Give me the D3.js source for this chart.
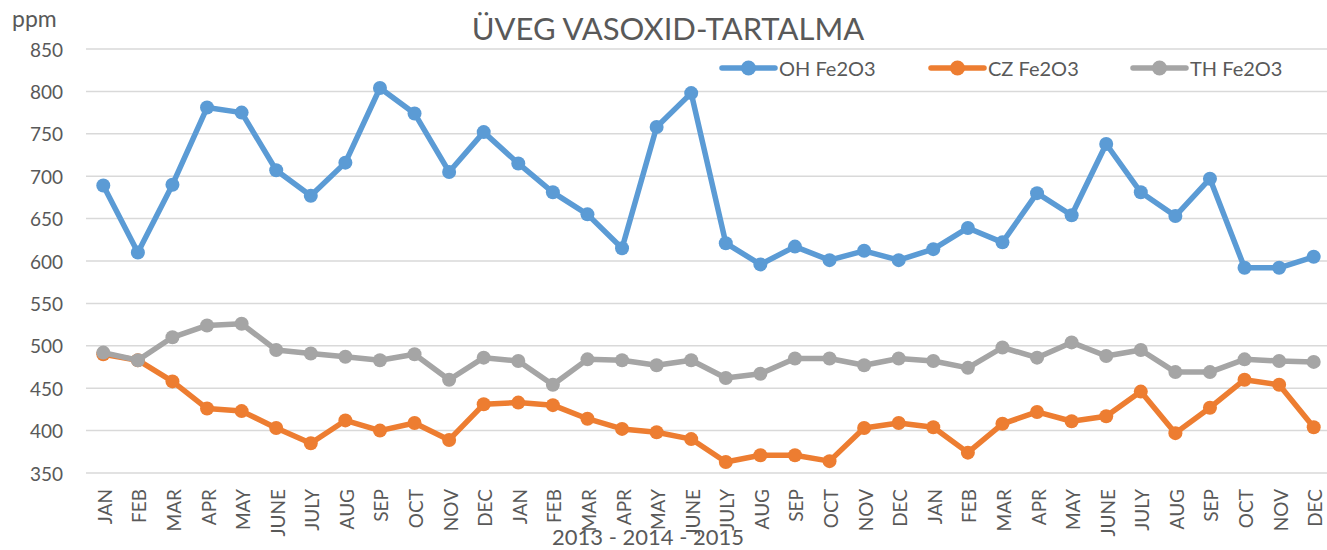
<!DOCTYPE html>
<html>
<head>
<meta charset="utf-8">
<script src="https://cdn.jsdelivr.net/npm/d3@7"></script>
<style>
  html, body { margin: 0; padding: 0; background: #fff; }
  svg { display: block; }
</style>
</head>
<body>
<div id="chart"></div>
<script>
// ── Data ───────────────────────────────────────────────────────────────────
const months = ['JAN','FEB','MAR','APR','MAY','JUNE','JULY','AUG','SEP','OCT','NOV','DEC'];
const categories = [...months, ...months, ...months];

const ohFe2O3 = [689, 610, 690, 781, 775, 707, 677, 716, 804, 774, 705, 752,
                 715, 681, 655, 615, 758, 798, 621, 596, 617, 601, 612, 601,
                 614, 639, 622, 680, 654, 738, 681, 653, 697, 592, 592, 605];
const czFe2O3 = [490, 483, 458, 426, 423, 403, 385, 412, 400, 409, 389, 431,
                 433, 430, 414, 402, 398, 390, 363, 371, 371, 364, 403, 409,
                 404, 374, 408, 422, 411, 417, 446, 397, 427, 460, 454, 404];
const thFe2O3 = [492, 483, 510, 524, 526, 495, 491, 487, 483, 490, 460, 486,
                 482, 454, 484, 483, 477, 483, 462, 467, 485, 485, 477, 485,
                 482, 474, 498, 486, 504, 488, 495, 469, 469, 484, 482, 481];

const yTicks = [350, 400, 450, 500, 550, 600, 650, 700, 750, 800, 850];

const series = [
  { name: 'OH Fe2O3', values: ohFe2O3, color: '#5B9BD5' },
  { name: 'CZ Fe2O3', values: czFe2O3, color: '#ED7D31' },
  { name: 'TH Fe2O3', values: thFe2O3, color: '#A5A5A5' },
];

// ── Layout ─────────────────────────────────────────────────────────────────
const W = 1327, H = 550;
const M = { l: 86, r: -4, t: 49, b: 77 };
const FONT = 'Lato, "Open Sans", sans-serif';
const TXT = '#595959';

const svg = d3.select('#chart').append('svg')
  .attr('width', W).attr('height', H);

const x = d3.scaleBand()
  .domain(d3.range(categories.length))
  .range([M.l, W - M.r]);
const y = d3.scaleLinear().domain([350, 850]).range([H - M.b, M.t]);
const cx = i => x(i) + x.bandwidth() / 2;

// Gridlines
svg.append('g').selectAll('line').data(yTicks).join('line')
  .attr('x1', M.l).attr('x2', W)
  .attr('y1', d => y(d)).attr('y2', d => y(d))
  .attr('stroke', '#D9D9D9').attr('stroke-width', 1.5);

// Y axis labels
svg.append('g').selectAll('text').data(yTicks).join('text')
  .attr('x', 63).attr('y', d => y(d))
  .attr('text-anchor', 'end').attr('dominant-baseline', 'central')
  .attr('font-size', 19).attr('fill', TXT).attr('font-family', FONT)
  .text(d => d);

// X axis labels (rotated)
svg.append('g').selectAll('text').data(categories).join('text')
  .attr('transform', (d, i) => `translate(${cx(i) + 1},${H - M.b + 16}) rotate(-90)`)
  .attr('text-anchor', 'end').attr('dominant-baseline', 'central')
  .attr('font-size', 19).attr('fill', TXT).attr('font-family', FONT)
  .text(d => d);

// Titles
svg.append('text')
  .attr('x', 668).attr('y', 40)
  .attr('text-anchor', 'middle')
  .attr('font-size', 31).attr('fill', TXT).attr('font-family', FONT)
  .text('ÜVEG VASOXID-TARTALMA');

svg.append('text')
  .attr('x', 12).attr('y', 27)
  .attr('font-size', 23).attr('fill', TXT).attr('font-family', FONT)
  .text('ppm');

svg.append('text')
  .attr('x', 648).attr('y', 545)
  .attr('text-anchor', 'middle')
  .attr('font-size', 22).attr('fill', TXT).attr('font-family', FONT)
  .text('2013 - 2014 - 2015');

// ── Series ─────────────────────────────────────────────────────────────────
const line = d3.line().x((d, i) => cx(i)).y(d => y(d));

series.forEach(s => {
  const g = svg.append('g');
  g.append('path')
    .attr('d', line(s.values))
    .attr('fill', 'none').attr('stroke', s.color)
    .attr('stroke-width', 5.5).attr('stroke-linejoin', 'round').attr('stroke-linecap', 'round');
  g.selectAll('circle').data(s.values).join('circle')
    .attr('cx', (d, i) => cx(i)).attr('cy', d => y(d))
    .attr('r', 7).attr('fill', s.color);
});

// ── Legend ─────────────────────────────────────────────────────────────────
const legX = [722, 931, 1133];
series.forEach((s, i) => {
  const lx = legX[i], ly = 68;
  svg.append('line')
    .attr('x1', lx).attr('x2', lx + 53).attr('y1', ly).attr('y2', ly)
    .attr('stroke', s.color).attr('stroke-width', 5.5).attr('stroke-linecap', 'round');
  svg.append('circle').attr('cx', lx + 26.5).attr('cy', ly).attr('r', 7.5).attr('fill', s.color);
  svg.append('text')
    .attr('x', lx + 57).attr('y', ly).attr('dominant-baseline', 'central')
    .attr('font-size', 20).attr('fill', TXT).attr('font-family', FONT)
    .text(s.name);
});
</script>
</body>
</html>
